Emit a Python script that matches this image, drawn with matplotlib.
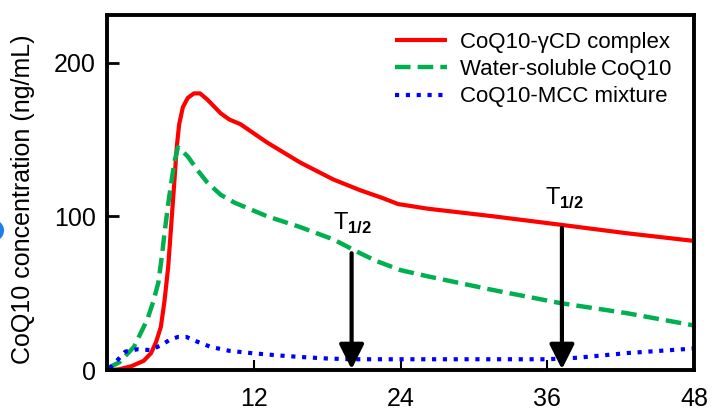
import matplotlib
matplotlib.use('Agg')
import matplotlib.pyplot as plt
from matplotlib.patches import Ellipse

plt.rcParams['font.family'] = ['Liberation Sans', 'DejaVu Sans']
plt.rcParams['mathtext.fontset'] = 'custom'
plt.rcParams['mathtext.rm'] = 'Liberation Sans'
plt.rcParams['mathtext.bf'] = 'Liberation Sans:bold'

# === Data ===
red_x = [0.3, 1.0, 2.0, 3.0, 3.6, 4.0, 4.4, 4.7, 5.0, 5.3, 5.5, 5.7, 5.9, 6.2, 6.6, 7.1, 7.6,
         8.2, 9.3, 10.0, 10.9, 12.0, 13.1, 15.8, 18.5, 20.7, 22.5, 23.8, 26.2, 31.6, 37.1, 42.5, 48.0]
red_y = [0, 0.5, 2.5, 6, 11, 18, 28, 45, 67, 100, 122, 145, 160, 171, 177, 180, 180,
         176, 167, 163, 160, 154, 148, 135, 124, 117, 112, 108, 105, 100, 94.5, 89, 84]

green_x = [0.0, 1.0, 2.2, 3.3, 3.8, 4.2, 4.5, 4.7, 5.0, 5.2, 5.5, 5.8, 6.6, 7.4, 8.2, 9.3, 10.4,
           13.1, 15.8, 18.5, 20.7, 22.0, 24.0, 26.2, 31.6, 37.1, 42.5, 48.0]
green_y = [1, 5, 15, 33, 45, 57, 75, 89, 108, 119, 135, 145, 139, 130, 122, 114, 109,
           100, 93, 85, 76, 71, 65, 61, 52, 43.5, 37, 29]

blue_x = [0.2, 0.8, 1.5, 2.5, 3.5, 4.4, 5.2, 5.8, 6.5, 7.2, 8.5, 10.0, 11.8, 14.0, 15.8, 18.0,
          20.0, 24.0, 30.0, 36.0, 38.5, 42.5, 48.0]
blue_y = [1, 6, 12, 13.5, 13, 16, 20, 21.5, 21.5, 19, 15, 12.5, 11, 9.5, 8.5, 7.5,
          7, 7, 7, 7, 8, 11, 14]

labels = ["CoQ10-\u03b3CD complex", "Water-soluble\u2009CoQ10", "CoQ10-MCC mixture"]

arrow_x = [20.0, 37.2]
arrow_top = [76, 92.5]
thalf_x = [18.5, 35.8]
thalf_y = [91, 107.5]

# === Figure ===
fig = plt.figure(figsize=(7.15, 4.19), dpi=100)
ax = fig.add_axes([0.1497, 0.1169, 0.8209, 0.8473])

ax.plot(red_x, red_y, color='#ff0000', lw=3.0, label=labels[0], solid_capstyle='butt')
ax.plot(green_x, green_y, color='#00b050', lw=3.2, dashes=[3.5, 1.6], label=labels[1])
ax.plot(blue_x, blue_y, color='#0000ff', lw=3.0, dashes=[1.0, 1.6], label=labels[2])

for x, top in zip(arrow_x, arrow_top):
    ax.annotate('', xy=(x, 0.5), xytext=(x, top),
                arrowprops=dict(arrowstyle='-|>,head_length=0.6,head_width=0.3',
                                color='black', lw=3, mutation_scale=25, shrinkA=0, shrinkB=0))

for x, y in zip(thalf_x, thalf_y):
    ax.text(x, y, r'T$_{\mathbf{1/2}}$', fontsize=17, ha='left', va='baseline')

ax.set_xlim(0, 48)
ax.set_ylim(0, 231)
ax.set_xticks([12, 24, 36, 48])
ax.set_yticks([0, 100, 200])
ax.tick_params(axis='x', direction='in', length=7, width=1.5, labelsize=18, pad=12)
ax.tick_params(axis='y', direction='in', length=8.5, width=2, labelsize=18, pad=8)
for s in ax.spines.values():
    s.set_linewidth(2.8)

ax.set_ylabel("CoQ10 concentration (ng/mL)", fontsize=18)
ax.yaxis.set_label_coords(-0.123, 0.48)

ax.legend(loc='upper left', bbox_to_anchor=(0.4906, 0.952), frameon=False, fontsize=16,
          borderpad=0, borderaxespad=0, handlelength=2.34, handletextpad=0.59, labelspacing=0.28)

# cut-off blue mark at the left edge
fig.patches.append(Ellipse((-6.85 / 715, (419 - 230.5) / 419), 2 * 10.15 / 715, 2 * 10.15 / 419,
                           transform=fig.transFigure, color='#1a7fe8', clip_on=False))

fig.savefig('out.png', dpi=100)
